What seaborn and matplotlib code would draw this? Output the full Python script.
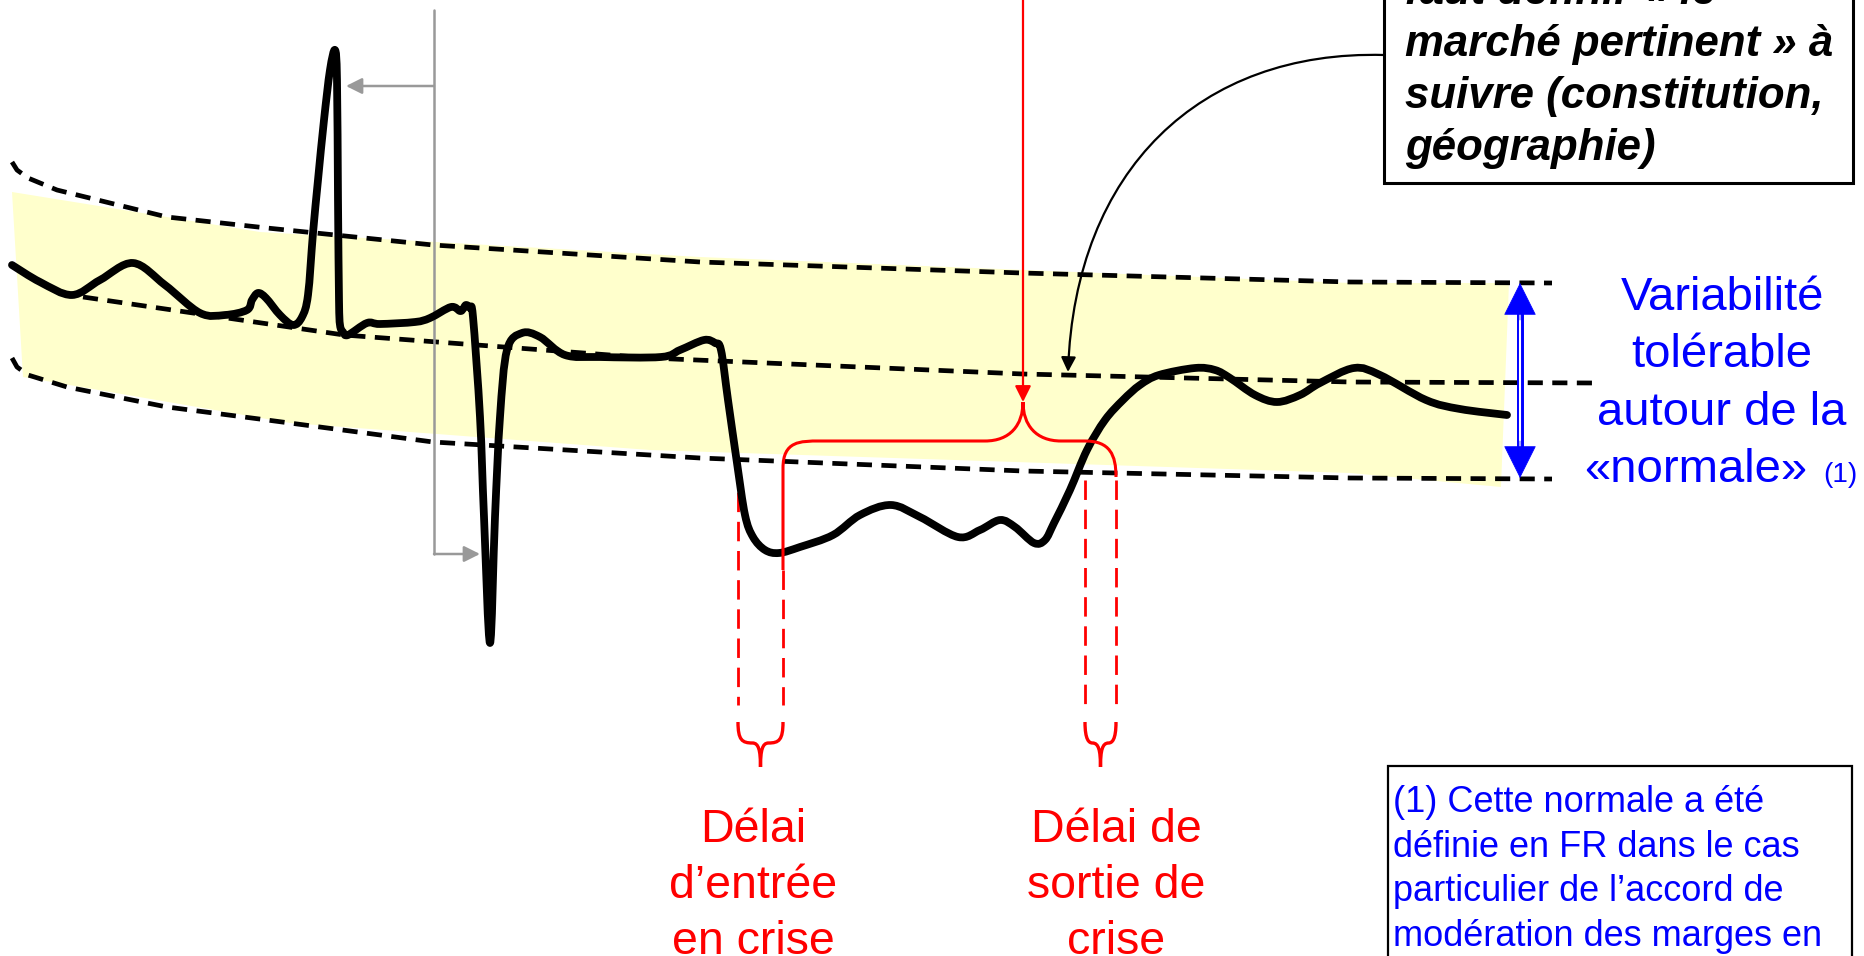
import matplotlib
matplotlib.use('Agg')
import matplotlib.pyplot as plt
import seaborn as sns
from matplotlib.path import Path
from matplotlib.patches import FancyArrowPatch, PathPatch, Rectangle

# Values, in pixel units of the 1864x956 image (y down).
curve_x = [12, 40, 72, 100, 133, 165, 200, 225, 247, 252, 258, 266, 280, 293, 302,
           308, 313, 318, 324, 330, 335, 337, 338, 339, 340, 343, 348,
           367, 380, 415, 430, 451, 460, 463, 466, 470, 473, 480, 484, 490, 495,
           500, 507, 522, 540, 565, 600, 661, 680, 704, 715, 721, 728, 737, 745,
           753, 765, 779, 800, 833, 860, 891, 920, 958, 980, 1000, 1015, 1034,
           1045, 1054, 1070, 1087, 1105, 1123, 1140, 1159, 1195, 1215, 1230,
           1255, 1277, 1300, 1320, 1354, 1380, 1426, 1460, 1507]
curve_y = [265, 282, 295, 280, 263, 285, 313, 315, 310, 300, 293, 298, 315, 325, 317,
           295, 233, 180, 120, 70, 50, 80, 200, 300, 325, 332, 335,
           323, 324, 322, 318, 307, 311, 309, 305, 308, 317, 417, 517, 643, 517,
           417, 350, 333, 337, 355, 357, 357, 350, 340, 343, 350, 400, 463, 515,
           537, 550, 553, 547, 535, 515, 505, 517, 537, 530, 520, 527, 543,
           540, 523, 490, 450, 420, 400, 385, 375, 368, 370, 378,
           395, 402, 395, 383, 368, 375, 400, 409, 415]

upper_x = [12, 17, 28, 57, 167, 267, 433, 700, 1022, 1350, 1552]
upper_y = [162, 170, 178, 190, 217, 228, 245, 262, 273, 282, 283]
middle_x = [83, 344, 650, 1023, 1350, 1597]
middle_y = [297, 335, 358, 374, 382, 383]
lower_x = [12, 17, 28, 67, 167, 267, 433, 700, 1023, 1350, 1552]
lower_y = [358, 367, 375, 387, 407, 420, 442, 458, 471, 478, 479]

band_x = [12, 260, 700, 1350, 1509, 1501, 1350, 650, 290, 23]
band_y = [192, 232, 257, 283, 283, 487, 473, 450, 423, 377]

box_lines = ['faut définir « le', 'marché pertinent » à',
             'suivre (constitution,', 'géographie)']
note_lines = ['(1) Cette normale a été', 'définie en FR dans le cas',
              'particulier de l’accord de', 'modération des marges en']
var_lines = ['Variabilité', 'tolérable', 'autour de la', '«normale»']
entry_lines = ['Délai', 'd’entrée', 'en crise']
exit_lines = ['Délai de', 'sortie de', 'crise']

RED = '#FF0000'
BLUE = '#0000FF'
GREY = '#999999'


def smooth_path(xs, ys):
    # Catmull-Rom through the read points, drawn as cubic Bezier segments
    pts = list(zip(xs, ys))
    verts, codes = [pts[0]], [Path.MOVETO]
    for i in range(len(pts) - 1):
        p0 = pts[i - 1] if i > 0 else pts[i]
        p1, p2 = pts[i], pts[i + 1]
        p3 = pts[i + 2] if i + 2 < len(pts) else p2
        c1 = (p1[0] + (p2[0] - p0[0]) / 6, p1[1] + (p2[1] - p0[1]) / 6)
        c2 = (p2[0] - (p3[0] - p1[0]) / 6, p2[1] - (p3[1] - p1[1]) / 6)
        verts += [c1, c2, p2]
        codes += [Path.CURVE4] * 3
    return Path(verts, codes)


sns.set_theme(style='white')
plt.rcParams['font.family'] = ['Liberation Sans', 'DejaVu Sans']

fig = plt.figure(figsize=(18.64, 9.56), dpi=100)
ax = fig.add_axes([0, 0, 1, 1])
ax.set_xlim(0, 1864)
ax.set_ylim(956, 0)
ax.axis('off')

# yellow tolerance band and dashed bounds
ax.fill(band_x, band_y, color='#FFFFCC', lw=0, zorder=0)
for xs, ys in [(upper_x, upper_y), (middle_x, middle_y), (lower_x, lower_y)]:
    sns.lineplot(x=xs, y=ys, sort=False, estimator=None, color='black',
                 linewidth=3.4, linestyle=(0, (3.2, 2.0)), ax=ax, zorder=2)

# the indicator
ax.add_patch(PathPatch(smooth_path(curve_x, curve_y), fill=False, edgecolor='black',
                       lw=5.6, capstyle='round', joinstyle='round', zorder=4))

# grey markers of the short spikes
ax.plot([434, 434], [10, 554], color=GREY, lw=1.8, zorder=3)
for tip, base in [((346, 86), (434, 86)), ((480, 554), (434, 554))]:
    ax.annotate('', xy=tip, xytext=base, arrowprops=dict(
        arrowstyle='-|>', color=GREY, lw=1.8, mutation_scale=24, shrinkA=0, shrinkB=0))

# red crisis marker and braces
ax.annotate('', xy=(1023, 402), xytext=(1023, -5), arrowprops=dict(
    arrowstyle='-|>', color=RED, lw=1.6, mutation_scale=24, shrinkA=0, shrinkB=0),
    zorder=5)
brace = Path([(783, 570), (783, 468), (783, 441), (800, 441), (820, 441),
              (985, 441), (1010, 441), (1023, 425), (1023, 402),
              (1023, 425), (1036, 441), (1061, 441), (1085, 441),
              (1110, 441), (1116, 455), (1116, 477)],
             [Path.MOVETO, Path.LINETO, Path.CURVE4, Path.CURVE4, Path.CURVE4,
              Path.LINETO, Path.CURVE4, Path.CURVE4, Path.CURVE4,
              Path.CURVE4, Path.CURVE4, Path.CURVE4, Path.LINETO,
              Path.CURVE4, Path.CURVE4, Path.CURVE4])
ax.add_patch(PathPatch(brace, fill=False, edgecolor=RED, lw=2.2, zorder=5))

for x, y0 in [(738, 463), (783, 570), (1085, 480), (1116, 480)]:
    ax.plot([x, x], [y0, 705], color=RED, lw=2, dashes=(7, 3.5), zorder=3)

for left, right in [(738, 783), (1085, 1116)]:
    mid = (left + right) / 2
    small = Path([(left, 722), (left, 740), (left + 4, 743), (mid - 8, 743),
                  (mid - 2, 743), (mid, 750), (mid, 767),
                  (right, 722), (right, 740), (right - 4, 743), (mid + 8, 743),
                  (mid + 2, 743), (mid, 750), (mid, 767)],
                 [Path.MOVETO, Path.CURVE4, Path.CURVE4, Path.CURVE4,
                  Path.CURVE4, Path.CURVE4, Path.CURVE4,
                  Path.MOVETO, Path.CURVE4, Path.CURVE4, Path.CURVE4,
                  Path.CURVE4, Path.CURVE4, Path.CURVE4])
    ax.add_patch(PathPatch(small, fill=False, edgecolor=RED, lw=2.4, zorder=5))

for lines, cx in [(entry_lines, 753), (exit_lines, 1116)]:
    for i, s in enumerate(lines):
        ax.text(cx, 842 + 56 * i, s, color=RED, fontsize=33.5, ha='center',
                va='baseline')

# blue tolerance arrow
ax.plot([1520, 1520], [300, 460], color=BLUE, lw=5, zorder=5)
ax.plot([1520, 1520], [305, 455], color='white', lw=1.5, zorder=6)
for tip, base in [((1520, 283), (1520, 320)), ((1520, 478), (1520, 441))]:
    ax.annotate('', xy=tip, xytext=base, arrowprops=dict(
        arrowstyle='-|>', color=BLUE, lw=0.5, mutation_scale=55, shrinkA=0, shrinkB=0),
        zorder=7)
for i, s in enumerate(var_lines):
    ax.text(1722 if i < 3 else 1696, 310 + 57.3 * i, s, color=BLUE, fontsize=34,
            ha='center', va='baseline')
ax.text(1823, 482, '(1)', color=BLUE, fontsize=20, ha='left', va='baseline')

# top-right callout
ax.add_patch(Rectangle((1384, -20), 469, 203, facecolor='white', edgecolor='black',
                       lw=2.2, zorder=6))
for i, s in enumerate(box_lines):
    ax.text(1405, 4 + 52 * i, s, color='black', fontsize=31.5, fontweight='bold',
            fontstyle='italic', ha='left', va='baseline', zorder=7)
callout = Path([(1384, 55), (1200, 50), (1075, 170), (1068, 372)],
               [Path.MOVETO, Path.CURVE4, Path.CURVE4, Path.CURVE4])
ax.add_patch(FancyArrowPatch(path=callout, arrowstyle='-|>', mutation_scale=22,
                             color='black', lw=1.6, zorder=6))

# bottom-right footnote
ax.add_patch(Rectangle((1388, 766), 464, 230, facecolor='white', edgecolor='black',
                       lw=1.6, zorder=6))
for i, s in enumerate(note_lines):
    ax.text(1393, 812 + 44.7 * i, s, color=BLUE, fontsize=26, ha='left',
            va='baseline', zorder=7)

plt.savefig('out.png', dpi=100)
